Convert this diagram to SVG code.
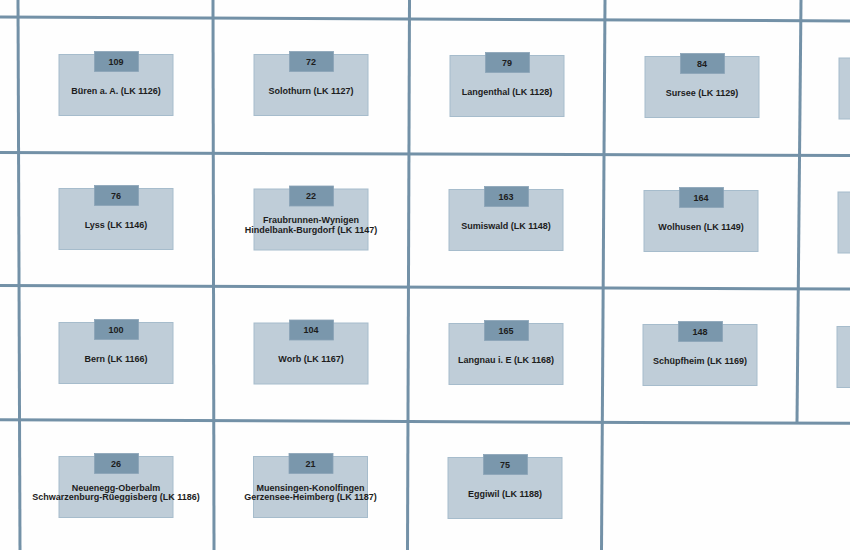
<svg xmlns="http://www.w3.org/2000/svg" width="850" height="550" viewBox="0 0 850 550">
<style>
.grid line{stroke:#7391a7;stroke-width:3;stroke-linecap:butt}
.box{fill:#bfcdd8;stroke:#a6bccc;stroke-width:1}
.tab{fill:#7a97ac;stroke:#8aa4b7;stroke-width:0.8}
text{font-family:"Liberation Sans",Arial,sans-serif;font-weight:bold;font-size:9px;fill:#1c1c1c;text-anchor:middle}
</style>
<rect width="850" height="550" fill="#fefefe"/>
<g id="connectors" class="grid">
<line x1="0" y1="17" x2="850" y2="21"/>
<line x1="0" y1="152.5" x2="850" y2="155.5"/>
<line x1="0" y1="285.5" x2="850" y2="289"/>
<line x1="0" y1="419.8" x2="850" y2="423.3"/>
<line x1="18" y1="0" x2="20" y2="550"/>
<line x1="213" y1="0" x2="214" y2="550"/>
<line x1="409.5" y1="0" x2="407.5" y2="550"/>
<line x1="605" y1="0" x2="601.5" y2="550"/>
<line x1="801" y1="0" x2="797" y2="423"/>
</g>
<g id="n109" transform="translate(59,54.5)"><rect class="box" width="114" height="61"/><rect class="tab" x="35.5" y="-3" width="44" height="20"/><text x="57" y="10.3">109</text><text x="57" y="39">Büren a. A. (LK 1126)</text></g>
<g id="n72" transform="translate(254,54.5)"><rect class="box" width="114" height="61"/><rect class="tab" x="35.5" y="-3" width="44" height="20"/><text x="57" y="10.3">72</text><text x="57" y="39">Solothurn (LK 1127)</text></g>
<g id="n79" transform="translate(450,55.5)"><rect class="box" width="114" height="61"/><rect class="tab" x="35.5" y="-3" width="44" height="20"/><text x="57" y="10.3">79</text><text x="57" y="39">Langenthal (LK 1128)</text></g>
<g id="n84" transform="translate(645,56.5)"><rect class="box" width="114" height="61"/><rect class="tab" x="35.5" y="-3" width="44" height="20"/><text x="57" y="10.3">84</text><text x="57" y="39">Sursee (LK 1129)</text></g>
<g id="n_r1c6" transform="translate(839,58)"><rect class="box" width="114" height="61"/></g>
<g id="n76" transform="translate(59,188.5)"><rect class="box" width="114" height="61"/><rect class="tab" x="35.5" y="-3" width="44" height="20"/><text x="57" y="10.3">76</text><text x="57" y="39">Lyss (LK 1146)</text></g>
<g id="n22" transform="translate(254,189)"><rect class="box" width="114" height="61"/><rect class="tab" x="35.5" y="-3" width="44" height="20"/><text x="57" y="10.3">22</text><text x="57" y="34">Fraubrunnen-Wynigen</text><text x="57" y="43.5">Hindelbank-Burgdorf (LK 1147)</text></g>
<g id="n163" transform="translate(449,189.5)"><rect class="box" width="114" height="61"/><rect class="tab" x="35.5" y="-3" width="44" height="20"/><text x="57" y="10.3">163</text><text x="57" y="39">Sumiswald (LK 1148)</text></g>
<g id="n164" transform="translate(644,190.5)"><rect class="box" width="114" height="61"/><rect class="tab" x="35.5" y="-3" width="44" height="20"/><text x="57" y="10.3">164</text><text x="57" y="39">Wolhusen (LK 1149)</text></g>
<g id="n_r2c6" transform="translate(838,192)"><rect class="box" width="114" height="61"/></g>
<g id="n100" transform="translate(59,322.5)"><rect class="box" width="114" height="61"/><rect class="tab" x="35.5" y="-3" width="44" height="20"/><text x="57" y="10.3">100</text><text x="57" y="39">Bern (LK 1166)</text></g>
<g id="n104" transform="translate(254,323)"><rect class="box" width="114" height="61"/><rect class="tab" x="35.5" y="-3" width="44" height="20"/><text x="57" y="10.3">104</text><text x="57" y="39">Worb (LK 1167)</text></g>
<g id="n165" transform="translate(449,323.5)"><rect class="box" width="114" height="61"/><rect class="tab" x="35.5" y="-3" width="44" height="20"/><text x="57" y="10.3">165</text><text x="57" y="39">Langnau i. E (LK 1168)</text></g>
<g id="n148" transform="translate(643,324.5)"><rect class="box" width="114" height="61"/><rect class="tab" x="35.5" y="-3" width="44" height="20"/><text x="57" y="10.3">148</text><text x="57" y="39">Schüpfheim (LK 1169)</text></g>
<g id="n_r3c6" transform="translate(837,326.5)"><rect class="box" width="114" height="61"/></g>
<g id="n26" transform="translate(59,456.5)"><rect class="box" width="114" height="61"/><rect class="tab" x="35.5" y="-3" width="44" height="20"/><text x="57" y="10.3">26</text><text x="57" y="34">Neuenegg-Oberbalm</text><text x="57" y="43.5">Schwarzenburg-Rüeggisberg (LK 1186)</text></g>
<g id="n21" transform="translate(253.5,456.5)"><rect class="box" width="114" height="61"/><rect class="tab" x="35.5" y="-3" width="44" height="20"/><text x="57" y="10.3">21</text><text x="57" y="34">Muensingen-Konolfingen</text><text x="57" y="43.5">Gerzensee-Heimberg (LK 1187)</text></g>
<g id="n75" transform="translate(448,457.5)"><rect class="box" width="114" height="61"/><rect class="tab" x="35.5" y="-3" width="44" height="20"/><text x="57" y="10.3">75</text><text x="57" y="39">Eggiwil (LK 1188)</text></g>
</svg>
